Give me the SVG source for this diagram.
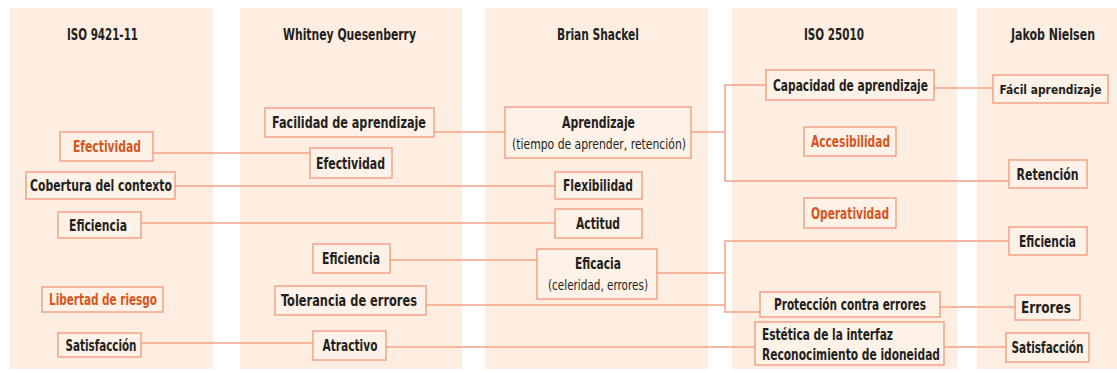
<svg xmlns="http://www.w3.org/2000/svg" width="1117" height="373" viewBox="0 0 1117 373">
<style>
.col{fill:#FDEEE1}
.box{fill:#FEF2E8;stroke:#F2A385;stroke-width:1.5}
.t{font-family:"DejaVu Sans Condensed","Liberation Sans Narrow","Liberation Sans",sans-serif;font-weight:bold;font-size:15px;fill:#231F20;text-anchor:middle}
.o{fill:#D5561E}
.s{font-weight:normal;font-size:14px}
.h{font-size:15px}
.l{text-anchor:start}
.c{fill:none;stroke:#F2A385;stroke-width:1.5}
</style>
<rect width="1117" height="373" fill="#FFFFFF"/>
<g id="columns">
<rect class="col" x="10" y="8" width="203" height="361"/>
<rect class="col" x="240" y="8" width="222" height="361"/>
<rect class="col" x="485" y="8" width="223" height="361"/>
<rect class="col" x="732" y="8" width="225" height="361"/>
<rect class="col" x="977" y="8" width="140" height="361"/>
</g>
<g id="headers">
<text class="t h" x="102.5" y="40" textLength="71" lengthAdjust="spacingAndGlyphs">ISO 9421-11</text>
<text class="t h" x="349.5" y="40" textLength="133" lengthAdjust="spacingAndGlyphs">Whitney Quesenberry</text>
<text class="t h" x="598" y="40" textLength="82" lengthAdjust="spacingAndGlyphs">Brian Shackel</text>
<text class="t h" x="834" y="40" textLength="60" lengthAdjust="spacingAndGlyphs">ISO 25010</text>
<text class="t h" x="1053" y="40" textLength="84" lengthAdjust="spacingAndGlyphs">Jakob Nielsen</text>
</g>
<g id="connectors">
<path class="c" d="M153,153H310"/>
<path class="c" d="M175,186H555"/>
<path class="c" d="M141,223H555"/>
<path class="c" d="M141,343H313"/>
<path class="c" d="M434,132H505"/>
<path class="c" d="M390,260H537"/>
<path class="c" d="M426,305H725"/>
<path class="c" d="M386,347H755"/>
<path class="c" d="M691,132H725M766,85H725V181H1009"/>
<path class="c" d="M657,273H725M1009,241H725V312H760"/>
<path class="c" d="M934,88H994"/>
<path class="c" d="M940,307H1015"/>
<path class="c" d="M944,347H1006"/>
</g>
<g id="n-efectividad1"><rect class="box" x="60" y="132" width="93" height="29"/><text class="t o" x="107" y="151.5" textLength="68" lengthAdjust="spacingAndGlyphs">Efectividad</text></g>
<g id="n-cobertura"><rect class="box" x="26" y="172" width="149" height="27"/><text class="t" x="101" y="191" textLength="142" lengthAdjust="spacingAndGlyphs">Cobertura del contexto</text></g>
<g id="n-eficiencia1"><rect class="box" x="58" y="212" width="83" height="26"/><text class="t" x="98" y="230.5" textLength="58" lengthAdjust="spacingAndGlyphs">Eficiencia</text></g>
<g id="n-libertad"><rect class="box" x="42" y="287" width="121" height="25"/><text class="t o" x="103" y="305" textLength="108" lengthAdjust="spacingAndGlyphs">Libertad de riesgo</text></g>
<g id="n-satisfaccion1"><rect class="box" x="58" y="333" width="83" height="24"/><text class="t" x="101" y="350.5" textLength="71" lengthAdjust="spacingAndGlyphs">Satisfacción</text></g>
<g id="n-facilidad"><rect class="box" x="265" y="108" width="169" height="29"/><text class="t" x="349" y="128" textLength="154" lengthAdjust="spacingAndGlyphs">Facilidad de aprendizaje</text></g>
<g id="n-efectividad2"><rect class="box" x="310" y="148" width="82" height="30"/><text class="t" x="350.5" y="168.5" textLength="69" lengthAdjust="spacingAndGlyphs">Efectividad</text></g>
<g id="n-eficiencia2"><rect class="box" x="313" y="244" width="77" height="29"/><text class="t" x="351" y="264" textLength="58" lengthAdjust="spacingAndGlyphs">Eficiencia</text></g>
<g id="n-tolerancia"><rect class="box" x="275" y="286" width="151" height="29"/><text class="t" x="349" y="306" textLength="136" lengthAdjust="spacingAndGlyphs">Tolerancia de errores</text></g>
<g id="n-atractivo"><rect class="box" x="313" y="331" width="73" height="29"/><text class="t" x="350" y="351" textLength="55" lengthAdjust="spacingAndGlyphs">Atractivo</text></g>
<g id="n-aprendizaje"><rect class="box" x="505" y="107" width="186" height="51"/><text class="t" x="598.5" y="127.5" textLength="73" lengthAdjust="spacingAndGlyphs">Aprendizaje</text><text class="t s" x="599" y="148.5" textLength="174" lengthAdjust="spacingAndGlyphs">(tiempo de aprender, retención)</text></g>
<g id="n-flexibilidad"><rect class="box" x="555" y="172" width="87" height="27"/><text class="t" x="598" y="191" textLength="70" lengthAdjust="spacingAndGlyphs">Flexibilidad</text></g>
<g id="n-actitud"><rect class="box" x="555" y="209" width="87" height="29"/><text class="t" x="598" y="229" textLength="44" lengthAdjust="spacingAndGlyphs">Actitud</text></g>
<g id="n-eficacia"><rect class="box" x="537" y="249" width="120" height="50"/><text class="t" x="598" y="268.5" textLength="46" lengthAdjust="spacingAndGlyphs">Eficacia</text><text class="t s" x="598" y="289.5" textLength="100" lengthAdjust="spacingAndGlyphs">(celeridad, errores)</text></g>
<g id="n-capacidad"><rect class="box" x="766" y="70" width="168" height="30"/><text class="t" x="850.5" y="90.5" textLength="155" lengthAdjust="spacingAndGlyphs">Capacidad de aprendizaje</text></g>
<g id="n-accesibilidad"><rect class="box" x="804" y="127" width="92" height="29"/><text class="t o" x="850.5" y="147" textLength="79" lengthAdjust="spacingAndGlyphs">Accesibilidad</text></g>
<g id="n-operatividad"><rect class="box" x="804" y="198" width="92" height="30"/><text class="t o" x="850" y="218.5" textLength="78" lengthAdjust="spacingAndGlyphs">Operatividad</text></g>
<g id="n-proteccion"><rect class="box" x="760" y="292" width="180" height="25"/><text class="t" x="850" y="310" textLength="152" lengthAdjust="spacingAndGlyphs">Protección contra errores</text></g>
<g id="n-estetica"><rect class="box" x="755" y="322" width="189" height="43"/><text class="t l" x="762" y="339.5" textLength="131" lengthAdjust="spacingAndGlyphs">Estética de la interfaz</text><text class="t l" x="762" y="359.5" textLength="178" lengthAdjust="spacingAndGlyphs">Reconocimiento de idoneidad</text></g>
<g id="n-facil"><rect class="box" x="993" y="75" width="115" height="28"/><text class="t" x="1050.5" y="94" style="font-size:13px" textLength="102" lengthAdjust="spacingAndGlyphs">Fácil aprendizaje</text></g>
<g id="n-retencion"><rect class="box" x="1009" y="160" width="78" height="28"/><text class="t" x="1047.5" y="179.5" textLength="62" lengthAdjust="spacingAndGlyphs">Retención</text></g>
<g id="n-eficiencia5"><rect class="box" x="1009" y="227" width="78" height="28"/><text class="t" x="1047.5" y="246.5" textLength="57" lengthAdjust="spacingAndGlyphs">Eficiencia</text></g>
<g id="n-errores"><rect class="box" x="1015" y="295" width="65" height="25"/><text class="t" x="1046" y="313" textLength="50" lengthAdjust="spacingAndGlyphs">Errores</text></g>
<g id="n-satisfaccion5"><rect class="box" x="1006" y="333" width="83" height="29"/><text class="t" x="1047.5" y="353" textLength="72" lengthAdjust="spacingAndGlyphs">Satisfacción</text></g>
</svg>
